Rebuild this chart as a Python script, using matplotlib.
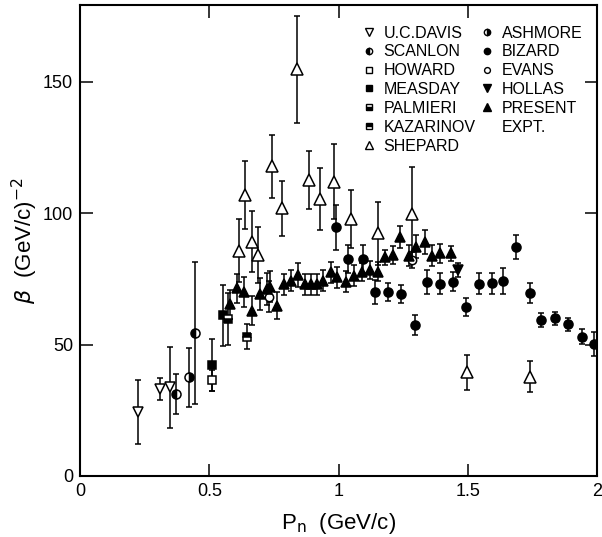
import matplotlib
matplotlib.use('Agg')
import matplotlib.pyplot as plt
from matplotlib.lines import Line2D

# ---- data ----
davis_x = [0.224, 0.308, 0.349]
davis_y = [24.3, 33.1, 33.7]
davis_e = [12.3, 4.2, 15.5]

scanlon_x = [0.372, 0.446]
scanlon_y = [31.2, 54.4]
scanlon_e = [7.7, 27.0]

ashmore_x = [0.423]
ashmore_y = [37.6]
ashmore_e = [11.3]

howard_x = [0.511]
howard_y = [36.4]
howard_e = [4.0]

measday_x = [0.511, 0.552]
measday_y = [42.3, 61.1]
measday_e = [10.0, 11.5]

palmieri_x = [0.571]
palmieri_y = [59.7]
palmieri_e = [10.0]

kazarinov_x = [0.644]
kazarinov_y = [53.1]
kazarinov_e = [4.8]

shepard_x = [0.615, 0.637, 0.664, 0.69, 0.744, 0.78, 0.838, 0.885, 0.928,
             0.981, 1.05, 1.152, 1.284, 1.496, 1.74]
shepard_y = [85.7, 107.0, 89.2, 84.1, 118.0, 101.9, 154.8, 112.7, 105.4,
             112.1, 97.8, 92.4, 99.7, 39.5, 37.8]
shepard_e = [12.0, 13.0, 11.5, 10.5, 12.0, 10.5, 20.3, 10.9, 11.7,
             14.4, 11.0, 12.0, 17.8, 6.6, 6.0]

bizard_x = [0.991, 1.037, 1.094, 1.140, 1.192, 1.242, 1.295, 1.342, 1.391,
            1.443, 1.494, 1.544, 1.593, 1.638, 1.687, 1.739, 1.785, 1.838,
            1.887, 1.942, 1.988]
bizard_y = [94.6, 82.6, 82.6, 70.0, 70.0, 69.3, 57.5, 73.8, 73.1,
            74.0, 64.3, 73.1, 73.4, 74.3, 87.1, 69.8, 59.4, 60.1,
            57.8, 53.1, 50.2]
bizard_e = [8.6, 5.5, 5.5, 4.5, 3.5, 3.5, 3.8, 4.5, 4.0,
            3.5, 3.5, 4.0, 4.0, 5.0, 4.5, 3.8, 2.5, 2.5,
            2.5, 3.0, 4.5]

evans_x = [0.731, 1.284]
evans_y = [68.3, 82.2]
evans_e = [6.0, 3.0]

hollas_x = [1.463]
hollas_y = [78.4]
hollas_e = [2.5]

present_x = [0.58, 0.609, 0.634, 0.667, 0.696, 0.722, 0.735, 0.761, 0.789,
             0.815, 0.844, 0.870, 0.892, 0.915, 0.938, 0.969, 0.995, 1.028,
             1.059, 1.089, 1.121, 1.152, 1.179, 1.211, 1.238, 1.271, 1.301,
             1.333, 1.362, 1.391, 1.435]
present_y = [65.4, 71.5, 70.0, 63.0, 69.2, 71.1, 72.1, 64.9, 73.0,
             74.3, 76.5, 73.0, 73.0, 73.0, 74.3, 77.6, 75.6, 74.0,
             76.2, 77.6, 78.4, 77.8, 83.2, 84.1, 90.9, 83.9, 87.3,
             89.0, 83.9, 84.7, 84.7]
present_e = [5.5, 5.5, 5.8, 5.5, 6.0, 6.0, 6.0, 5.0, 4.0,
             4.0, 4.5, 4.0, 4.0, 4.0, 4.0, 4.0, 4.0, 4.0,
             4.0, 3.5, 3.5, 3.5, 3.0, 3.5, 4.2, 4.0, 4.5,
             4.5, 4.0, 3.5, 3.0]

x_ticks = [0, 0.5, 1, 1.5, 2]
x_tick_labels = ['0', '0.5', '1', '1.5', '2']
y_ticks = [0, 50, 100, 150]
y_tick_labels = ['0', '50', '100', '150']

plt.rcParams['font.family'] = ['Liberation Sans', 'DejaVu Sans']

fig = plt.figure(figsize=(6.02, 5.37), dpi=100)
ax = fig.add_axes([0.133, 0.1136, 0.8587, 0.8771])

# (x, y, err, marker, fillstyle, face, label, size)
series = [
    (davis_x, davis_y, davis_e, 'v', 'full', 'white', 'U.C.DAVIS', 7.5),
    (scanlon_x, scanlon_y, scanlon_e, 'o', 'left', 'black', 'SCANLON', 6.5),
    (howard_x, howard_y, howard_e, 's', 'full', 'white', 'HOWARD', 6),
    (measday_x, measday_y, measday_e, 's', 'full', 'black', 'MEASDAY', 6),
    (palmieri_x, palmieri_y, palmieri_e, 's', 'bottom', 'black', 'PALMIERI', 6),
    (kazarinov_x, kazarinov_y, kazarinov_e, 's', 'top', 'black', 'KAZARINOV', 6),
    (shepard_x, shepard_y, shepard_e, '^', 'full', 'white', 'SHEPARD', 8),
    (ashmore_x, ashmore_y, ashmore_e, 'o', 'right', 'black', 'ASHMORE', 6.5),
    (bizard_x, bizard_y, bizard_e, 'o', 'full', 'black', 'BIZARD', 6.5),
    (evans_x, evans_y, evans_e, 'o', 'full', 'white', 'EVANS', 6),
    (hollas_x, hollas_y, hollas_e, 'v', 'full', 'black', 'HOLLAS', 7.5),
    (present_x, present_y, present_e, '^', 'full', 'black', 'PRESENT', 7.5),
]

handles = []
for xs, ys, es, mk, fs, fc, lab, ms in series:
    ax.errorbar(xs, ys, yerr=es, fmt='none', ecolor='black', elinewidth=1.1,
                capsize=2.2, capthick=1.1, zorder=2)
    ax.plot(xs, ys, linestyle='none', marker=mk, markersize=ms, fillstyle=fs,
            markerfacecolor=fc, markerfacecoloralt='white',
            markeredgecolor='black', markeredgewidth=1.1, zorder=3)
    handles.append(Line2D([], [], linestyle='none', marker=mk, markersize=ms * 0.7,
                          fillstyle=fs, markerfacecolor=fc,
                          markerfacecoloralt='white', markeredgecolor='black',
                          markeredgewidth=1.0, label=lab))

# continuation line of "PRESENT EXPT."
handles.append(Line2D([], [], linestyle='none', marker='', label='EXPT.'))

ax.legend(handles=handles, ncol=2, loc='upper right', frameon=False,
          fontsize=11.5, handlelength=0.8, handletextpad=0.55, columnspacing=0.3,
          labelspacing=0.24, bbox_to_anchor=(0.985, 0.97), borderaxespad=0)

ax.set_xlim(0, 2)
ax.set_ylim(0, 179.3)
ax.set_xticks(x_ticks)
ax.set_xticklabels(x_tick_labels)
ax.set_yticks(y_ticks)
ax.set_yticklabels(y_tick_labels)
ax.tick_params(direction='in', length=9, width=1.1, top=True, right=True,
               labelsize=13, pad=5)
for sp in ax.spines.values():
    sp.set_linewidth(1.5)

ax.set_xlabel(r'P$_{\rm n}$  (GeV/c)', fontsize=16, labelpad=8)
ax.set_ylabel(r'$\beta$  (GeV/c)$^{-2}$', fontsize=16, labelpad=2)

fig.savefig('out.png', dpi=100)
